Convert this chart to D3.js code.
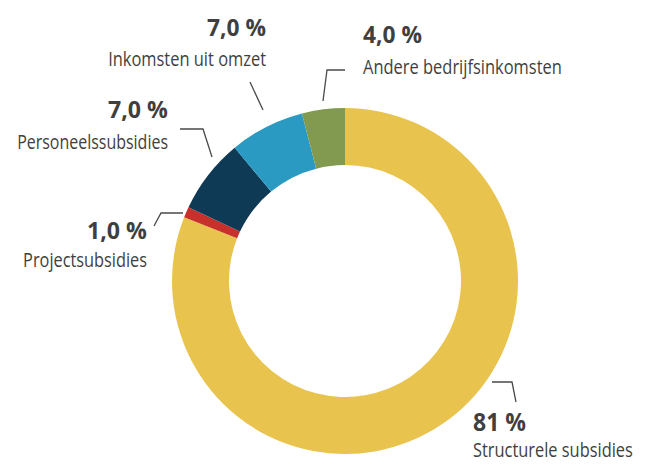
<!DOCTYPE html>
<html>
<head>
<meta charset="utf-8">
<script src="https://cdn.jsdelivr.net/npm/d3@7"></script>
<style>
  html, body { margin: 0; padding: 0; background: #fff; }
  svg { display: block; }
  .pct { font-family: "Open Sans", "Noto Sans", sans-serif; font-weight: bold; fill: #3f3f40; }
  .lbl { font-family: "Open Sans", "Noto Sans", sans-serif; fill: #3f3f40; }
</style>
</head>
<body>
<svg id="chart" width="647" height="465"></svg>
<script>
// ---- data ----
const categories = ["Structurele subsidies", "Projectsubsidies", "Personeelssubsidies", "Inkomsten uit omzet", "Andere bedrijfsinkomsten"];
const values = [81, 1, 7, 7, 4];
const valueLabels = ["81 %", "1,0 %", "7,0 %", "7,0 %", "4,0 %"];
const colors = ["#E8C44F", "#C8302B", "#0F3A55", "#2A9AC2", "#819A4F"];

// ---- layout (annotation positions) ----
const cx = 345, cy = 281, outerR = 173, innerR = 116;
const labelLayout = [
  { anchor: "start", x: 473, pctY: 431, pctSize: 25, lblY: 457, lblW: 160, pctW: 53, leader: [[492,382],[512,382],[516,402]] },
  { anchor: "end",   x: 147, pctY: 239, pctSize: 22.5, lblY: 267, lblW: 124, pctW: 60, leader: [[154,226],[161,213],[183,213]] },
  { anchor: "end",   x: 168, pctY: 118, pctSize: 22.5, lblY: 149, lblW: 151, pctW: 60, leader: [[180,129],[203,129],[212,157]] },
  { anchor: "end",   x: 266, pctY: 36,  pctSize: 22.5, lblY: 66,  lblW: 158, pctW: 59, leader: [[250,82],[263,110]] },
  { anchor: "start", x: 363, pctY: 43,  pctSize: 22.5, lblY: 74,  lblW: 199, pctW: 59, leader: [[323,101],[327,70],[345,70]] }
];

const svg = d3.select("#chart");
const g = svg.append("g").attr("transform", `translate(${cx},${cy})`);

const color = d3.scaleOrdinal().domain(categories).range(colors);
const pie = d3.pie().sort(null).value(d => d.value);
const arc = d3.arc().innerRadius(innerR).outerRadius(outerR);

const data = categories.map((c, i) => ({ name: c, value: values[i], label: valueLabels[i] }));
const arcs = pie(data);

g.selectAll("path.slice")
  .data(arcs)
  .join("path")
  .attr("class", "slice")
  .attr("d", arc)
  .attr("fill", d => color(d.data.name));

// leaders
const line = d3.line();
svg.selectAll("path.leader")
  .data(labelLayout)
  .join("path")
  .attr("class", "leader")
  .attr("d", d => line(d.leader))
  .attr("fill", "none")
  .attr("stroke", "#4a4a4a")
  .attr("stroke-width", 1.3);

// labels: condensed by a horizontal scale fitted to the target width
function placeText(sel, cls, txt, size, x, y, anchor, w) {
  const t = sel.append("text")
    .attr("class", cls)
    .attr("x", 0).attr("y", 0)
    .attr("text-anchor", anchor)
    .attr("font-size", size)
    .text(txt);
  const natural = t.node().getComputedTextLength();
  const sx = natural > 0 ? w / natural : 1;
  t.attr("transform", `translate(${x},${y}) scale(${sx},1)`);
}

arcs.forEach((d, i) => {
  const L = labelLayout[i];
  const grp = svg.append("g").attr("class", "label");
  placeText(grp, "pct", d.data.label, L.pctSize, L.x, L.pctY, L.anchor, L.pctW);
  placeText(grp, "lbl", d.data.name, 19.5, L.x, L.lblY, L.anchor, L.lblW);
});
</script>
</body>
</html>
